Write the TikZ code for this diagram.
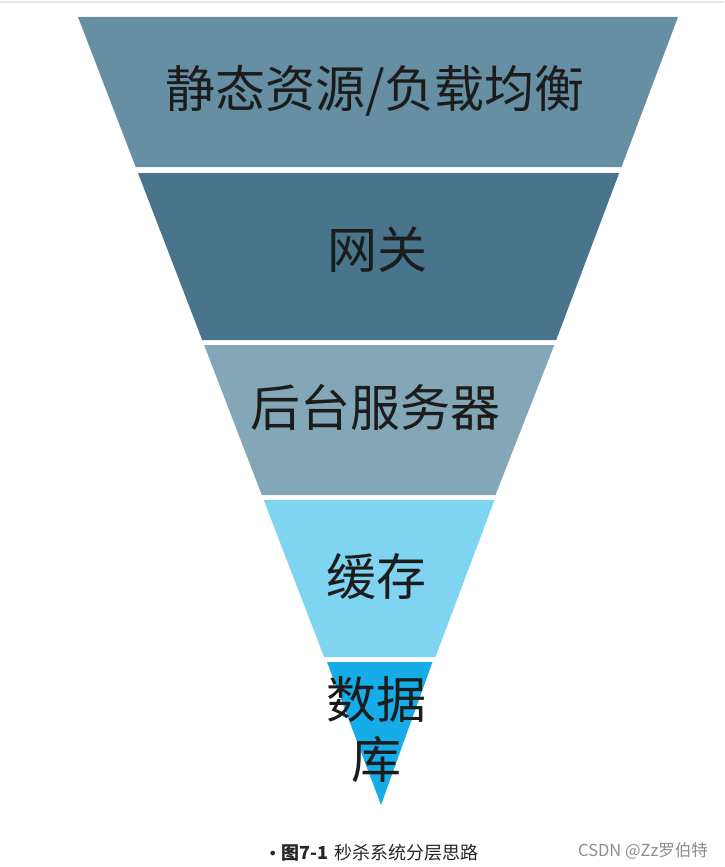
\documentclass[tikz,border=0pt]{standalone}
\usepackage{fontspec}
\newfontfamily\cjk{Noto Sans CJK SC}
\newfontfamily\dvs{DejaVu Sans}
\definecolor{bandA}{RGB}{102,143,163}
\definecolor{bandB}{RGB}{72,117,140}
\definecolor{bandC}{RGB}{132,167,183}
\definecolor{bandD}{RGB}{127,212,242}
\definecolor{bandE}{RGB}{22,172,232}
\definecolor{txt}{RGB}{28,28,28}
\begin{document}
\begin{tikzpicture}[x=1pt,y=-1pt,
  label/.style={text=txt,font=\cjk\fontsize{50}{56}\selectfont,inner sep=0pt},
  capt/.style={font=\cjk\fontsize{18}{20}\selectfont,text=black!85,inner sep=0pt,anchor=west}]
\useasboundingbox (0,0) rectangle (724,867);
\draw[black!10,line width=1.5pt] (0,2) -- (724,2);
% bands
\fill[bandA] (78,17) -- (678,17) -- (621.5,167) -- (135.7,167) -- cycle;
\fill[bandB] (138,173) -- (619.2,173) -- (556.2,340) -- (202.2,340) -- cycle;
\fill[bandC] (204.1,345) -- (554.3,345) -- (495.5,495) -- (261.8,495) -- cycle;
\fill[bandD] (263.7,500) -- (494.5,500) -- (435.5,657) -- (324.1,657) -- cycle;
\fill[bandE] (327,662) -- (432.5,662) -- (381,805) -- cycle;
% labels
\node[label] (l1) at (375,91) {静态资源/负载均衡};
\node[label] (l2) at (377,250) {网关};
\node[label] (l3) at (375,407) {后台服务器};
\node[label] (l4) at (376,577) {缓存};
\node[label] (l5a) at (376,700) {数据};
\node[label] (l5b) at (376,760) {库};
% caption
\node[capt] (cap) at (268,853) {{\dvs\fontsize{16}{16}\selectfont •}\hspace{4pt}{\bfseries 图7-1}\hspace{2pt} 秒杀系统分层思路};
\node[capt,text=black!45,font=\cjk\fontsize{16.5}{18}\selectfont] (wm) at (578,851) {CSDN @Zz罗伯特};
\end{tikzpicture}
\end{document}
